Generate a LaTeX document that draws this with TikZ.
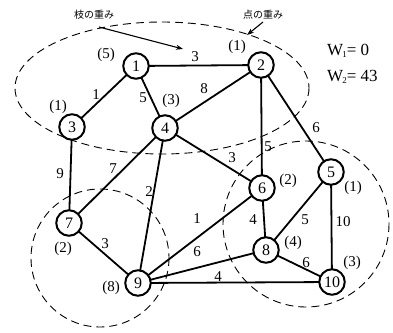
\documentclass[tikz,border=0pt]{standalone}
\usepackage{fontspec}
\setmainfont{Liberation Serif}
\newfontfamily\jpfont{Noto Sans CJK JP}
\usetikzlibrary{arrows.meta}
\begin{document}
\begin{tikzpicture}[x=1pt,y=-1pt,
  vtx/.style={circle,draw,line width=2pt,minimum size=25.5pt,inner sep=0pt,font=\fontsize{16}{16}\selectfont,fill=white},
  edg/.style={line width=1.8pt},
  elab/.style={inner sep=0pt,font=\fontsize{15}{15}\selectfont},
  wlab/.style={inner sep=0pt,font=\fontsize{15}{15}\selectfont},
  grp/.style={line width=0.9pt,dash pattern=on 8pt off 5pt},
  jlab/.style={inner sep=0pt,font=\jpfont\fontsize{10}{10}\selectfont},
  pt/.style={-{Stealth[length=7pt,width=5pt]},line width=1.1pt}]
\useasboundingbox (0,0) rectangle (393,332);
% groups
\draw[grp] (162,88) ellipse [x radius=147, y radius=66];
\draw[grp] (100,258) circle [radius=69];
\draw[grp] (306,224) circle [radius=83];
% vertex positions
\coordinate (p1) at (136,66);
\coordinate (p2) at (261,65);
\coordinate (p3) at (72,127);
\coordinate (p4) at (165,128);
\coordinate (p5) at (331,172);
\coordinate (p6) at (262,188);
\coordinate (p7) at (69,223);
\coordinate (p8) at (266,250);
\coordinate (p9) at (138,283);
\coordinate (p10) at (332,282);
% edges (under nodes)
\draw[edg] (p1)--(p2) (p1)--(p3) (p1)--(p4) (p2)--(p4) (p2)--(p6) (p2)--(p5)
  (p4)--(p6) (p3)--(p7) (p4)--(p7) (p4)--(p9) (p7)--(p9) (p9)--(p6) (p9)--(p8)
  (p9)--(p10) (p6)--(p8) (p5)--(p8) (p5)--(p10) (p8)--(p10);
% vertices
\node[vtx] (n1) at (p1) {1};
\node[vtx] (n2) at (p2) {2};
\node[vtx] (n3) at (p3) {3};
\node[vtx] (n4) at (p4) {4};
\node[vtx] (n5) at (p5) {5};
\node[vtx] (n6) at (p6) {6};
\node[vtx] (n7) at (p7) {7};
\node[vtx] (n8) at (p8) {8};
\node[vtx] (n9) at (p9) {9};
\node[vtx] (n10) at (p10) {10};
% vertex weights
\node[wlab] (w1) at (106,55) {(5)};
\node[wlab] (w2) at (237,47) {(1)};
\node[wlab] (w3) at (58,107) {(1)};
\node[wlab] (w4) at (171,101) {(3)};
\node[wlab] (w5) at (353,188) {(1)};
\node[wlab] (w6) at (288,181) {(2)};
\node[wlab] (w7) at (63,249) {(2)};
\node[wlab] (w8) at (293,243) {(4)};
\node[wlab] (w9) at (111,288) {(8)};
\node[wlab] (w10) at (352,263) {(3)};
% edge weights
\node[elab] (e12) at (195,57) {3};
\node[elab] (e13) at (96,95) {1};
\node[elab] (e14) at (143,98) {5};
\node[elab] (e24) at (204,89) {8};
\node[elab] (e26) at (268,147) {5};
\node[elab] (e25) at (316,128) {6};
\node[elab] (e46) at (232,158) {3};
\node[elab] (e37) at (60,174) {9};
\node[elab] (e47) at (113,169) {7};
\node[elab] (e49) at (149,192) {2};
\node[elab] (e79) at (105,244) {3};
\node[elab] (e96) at (197,219) {1};
\node[elab] (e98) at (197,252) {6};
\node[elab] (e910) at (218,277) {4};
\node[elab] (e68) at (253,220) {4};
\node[elab] (e58) at (305,220) {5};
\node[elab] (e510) at (343,222) {10};
\node[elab] (e810) at (306,263) {6};
% annotations
\node[jlab] (j1) at (94,15) {枝の重み};
\node[jlab] (j2) at (263,15) {点の重み};
\coordinate (a1s) at (99,27);
\coordinate (a1e) at (183,49);
\coordinate (a2s) at (263,22);
\coordinate (a2e) at (247,35);
\draw[pt] (a1s) -- (a1e);
\draw[pt] (a2s) -- (a2e);
\node[anchor=west,inner sep=0pt,font=\fontsize{17}{17}\selectfont] (W1) at (327,51) {W\kern-1pt\raisebox{-2pt}{\fontsize{9}{9}\selectfont 1}= 0};
\node[anchor=west,inner sep=0pt,font=\fontsize{17}{17}\selectfont] (W2) at (327,77) {W\kern-1pt\raisebox{-2pt}{\fontsize{9}{9}\selectfont 2}= 43};
\end{tikzpicture}
\end{document}
